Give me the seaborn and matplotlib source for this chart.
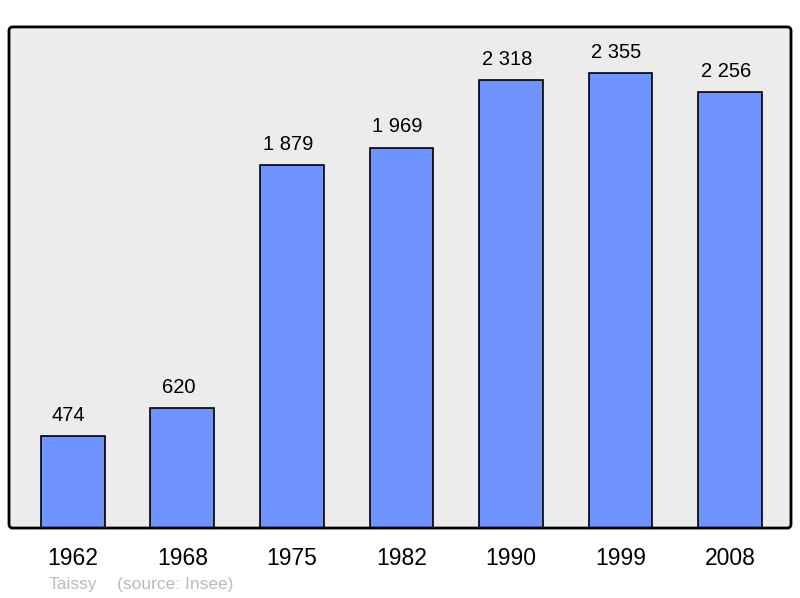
import matplotlib
matplotlib.use('Agg')
import matplotlib.pyplot as plt
from matplotlib.patches import FancyBboxPatch
import seaborn as sns
import pandas as pd

years = ['1962', '1968', '1975', '1982', '1990', '1999', '2008']
population = [474, 620, 1879, 1969, 2318, 2355, 2256]
labels = ['474', '620', '1 879', '1 969', '2 318', '2 355', '2 256']

df = pd.DataFrame({'Year': years, 'Population': population})

sns.set_style('white')
plt.rcParams['font.family'] = ['Liberation Sans', 'DejaVu Sans']

fig = plt.figure(figsize=(8, 5.98), dpi=100)
ax = fig.add_axes([0.01125, 0.117, 0.9775, 0.838])
ax.set_facecolor('none')

# rounded frame like the original
asp = 782 / 501
bg = FancyBboxPatch((0, 0), 1, 1, boxstyle='round,pad=0,rounding_size=0.005',
                    mutation_aspect=asp, transform=ax.transAxes,
                    facecolor='#ececec', edgecolor='none', zorder=0, clip_on=False)
frame = FancyBboxPatch((0, 0), 1, 1, boxstyle='round,pad=0,rounding_size=0.005',
                       mutation_aspect=asp, transform=ax.transAxes,
                       facecolor='none', edgecolor='black', linewidth=2, zorder=5, clip_on=False)
ax.add_patch(bg)
ax.add_patch(frame)

sns.barplot(x='Year', y='Population', data=df, ax=ax, color='#7094ff',
            saturation=1, width=0.584, edgecolor='black', linewidth=1.2, zorder=2)

for i, (v, lab) in enumerate(zip(population, labels)):
    ax.annotate(lab, (i, v), xytext=(-3, 8), textcoords='offset points',
                ha='center', va='bottom', fontsize=14.5, color='black')

ax.set_xlim(-0.584, 6.557)
ax.set_ylim(0, 2593)
ax.set_yticks([])
ax.set_xlabel('')
ax.set_ylabel('')
ax.tick_params(axis='x', length=0, pad=14, labelsize=16.5, labelcolor='black')
for s in ax.spines.values():
    s.set_visible(False)

fig.text(49 / 800, 1 - 584 / 598, 'Taissy', color='#bbbbbb', fontsize=12.5, va='center')
fig.text(117 / 800, 1 - 584 / 598, '(source: Insee)', color='#bbbbbb', fontsize=12.5, va='center')

fig.savefig('out.png', dpi=100)
